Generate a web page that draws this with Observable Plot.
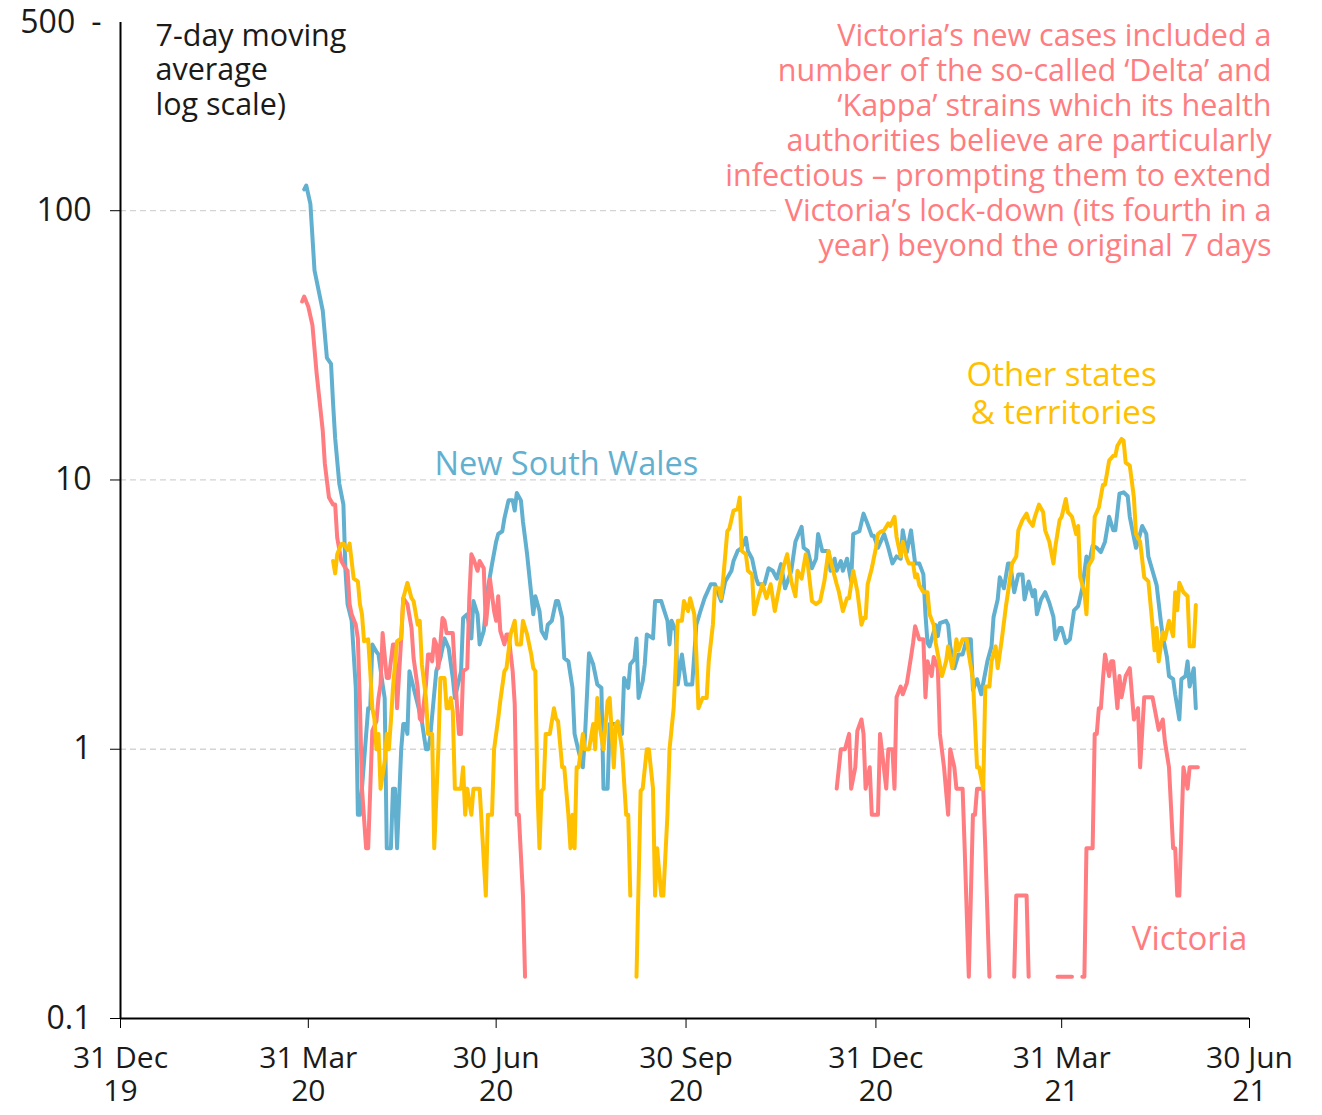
<!DOCTYPE html>
<html>
<head>
<meta charset="utf-8">
<script src="https://cdn.jsdelivr.net/npm/d3@7"></script>
<script src="https://cdn.jsdelivr.net/npm/@observablehq/plot@0.6"></script>
<style>
  html, body { margin: 0; padding: 0; background: #fff; }
  #chart svg { display: block; }
</style>
</head>
<body>
<div id="chart"></div>
<script>
// Day offsets counted from 31 Dec 2019; values = 7-day moving average of new cases (0 = no cases, not drawn on log scale)
const nsw = [[89,120],[90,124],[92,106],[94,60],[98,42.5],[100,28.4],[102,27],[103,19.2],[104,14.3],[106,9.7],[108,8.1],[109,4.6],[110,3.46],[112,3.0],[114,1.69],[115,0.571],[116,0.571],[120,1.42],[121,1.42],[122,2.45],[124,2.3],[125,2.25],[127,1.74],[128,1.55],[129,0.429],[131,0.429],[132,0.714],[133,0.714],[134,0.429],[136,1.0],[137,1.24],[138,1.24],[139,1.14],[140,1.95],[142,1.69],[144,1.47],[146,1.27],[148,1.0],[149,1.0],[150,1.1],[153,1.95],[155,2.18],[157,2.58],[159,2.37],[161,1.84],[162,1.55],[165,1.95],[166,3.07],[168,3.17],[170,2.58],[171,3.55],[173,3.17],[174,2.45],[176,2.75],[178,3.96],[180,4.87],[182,5.9],[183,6.3],[185,6.45],[186,7.2],[188,8.4],[190,8.4],[191,7.7],[192,8.94],[194,8.4],[195,7.0],[196,6.1],[197,5.3],[199,3.77],[200,3.17],[201,3.7],[203,3.26],[204,2.75],[206,2.58],[207,2.9],[209,3.0],[211,3.55],[212,3.55],[214,3.07],[215,2.18],[217,2.12],[219,1.69],[220,1.14],[222,0.98],[224,0.857],[225,1.1],[227,2.27],[229,2.07],[231,1.74],[233,1.69],[234,0.714],[236,0.714],[237,1.24],[241,1.24],[243,1.14],[244,1.84],[246,1.69],[247,2.07],[249,2.16],[250,2.58],[251,1.55],[253,1.79],[254,2.07],[255,2.67],[258,2.58],[259,3.55],[262,3.55],[263,3.35],[265,3.0],[266,2.45],[267,3.0],[269,2.75],[270,1.74],[272,2.25],[274,1.74],[277,1.74],[279,2.9],[281,3.26],[283,3.64],[286,4.1],[288,4.1],[291,3.55],[293,4.2],[296,4.6],[297,5.0],[299,5.45],[301,5.6],[303,6.1],[304,5.45],[306,5.1],[308,4.3],[309,4.1],[312,4.1],[314,4.7],[316,4.6],[318,4.3],[320,4.87],[322,3.96],[325,4.6],[327,5.9],[330,6.7],[331,5.6],[333,5.45],[335,4.7],[337,5.1],[338,6.3],[340,5.45],[343,5.45],[344,4.6],[346,5.1],[347,4.6],[349,5.0],[350,4.6],[352,5.1],[354,4.2],[355,6.3],[358,6.45],[360,7.5],[362,6.85],[364,6.2],[365,6.2],[367,5.6],[370,6.3],[372,5.6],[374,4.9],[376,5.2],[378,5.1],[379,6.5],[381,5.4],[383,6.5],[385,4.9],[387,4.9],[389,4.46],[390,3.17],[391,2.48],[392,2.41],[395,2.89],[396,2.63],[397,2.94],[400,3.0],[401,2.89],[402,2.41],[404,2.0],[406,2.25],[408,2.25],[410,2.56],[412,2.56],[413,1.66],[415,1.82],[417,1.6],[418,1.76],[420,2.12],[422,2.41],[423,3.1],[425,3.6],[426,4.35],[428,3.96],[430,4.9],[431,4.9],[433,3.83],[435,4.46],[437,4.46],[438,3.6],[440,4.2],[442,3.7],[443,3.9],[444,3.17],[446,3.6],[448,3.83],[450,3.5],[452,3.1],[453,2.56],[455,2.82],[456,2.82],[458,2.48],[460,2.56],[462,3.28],[464,3.4],[466,3.96],[468,5.2],[469,4.8],[471,5.7],[473,5.6],[475,5.4],[477,5.9],[479,7.3],[481,6.5],[482,6.5],[484,8.9],[486,9.0],[488,8.7],[489,7.3],[492,5.6],[493,5.9],[495,6.75],[497,6.3],[498,5.2],[500,4.6],[502,4.07],[504,3.0],[505,2.63],[507,2.2],[508,1.87],[510,1.82],[511,1.6],[513,1.29],[514,1.82],[516,1.87],[517,2.12],[518,1.71],[520,2.0],[521,1.42]];

const victoria = [[88,46],[89,48],[91,44],[93,37.5],[95,25],[98,15.2],[99,11.5],[101,8.6],[103,8.1],[104,8.1],[105,6.1],[107,5.0],[109,4.7],[110,4.6],[111,3.46],[112,3.17],[114,2.9],[115,2.58],[116,1.47],[117,0.714],[119,0.429],[120,0.429],[122,1.17],[124,1.27],[125,1.55],[126,1.74],[127,2.7],[129,1.84],[130,1.84],[132,2.45],[133,2.45],[134,1.42],[136,2.58],[137,3.64],[139,3.46],[141,2.82],[142,2.18],[144,1.69],[145,1.3],[146,1.27],[148,1.74],[149,2.25],[150,2.25],[151,2.12],[152,2.56],[153,2.45],[154,2.0],[156,3.07],[157,3.0],[158,2.7],[161,2.7],[162,1.95],[163,1.47],[164,1.14],[165,1.14],[166,1.95],[168,2.0],[169,3.64],[170,5.3],[171,5.1],[173,4.6],[174,5.0],[176,4.7],[177,2.9],[178,3.46],[179,4.3],[181,3.26],[182,3.0],[183,3.7],[184,2.75],[186,2.45],[187,2.67],[188,2.67],[190,1.95],[191,1.47],[192,0.571],[193,0.571],[195,0.286],[196,0.143],[197,0],[346,0],[347,0.714],[349,1.0],[351,1.0],[353,1.14],[354,0.714],[356,0.857],[357,1.17],[359,1.29],[360,1.14],[361,0.714],[363,0.857],[364,0.571],[367,0.571],[368,1.14],[371,0.714],[372,1.0],[374,1.0],[375,0.714],[376,1.56],[378,1.71],[379,1.6],[381,1.76],[383,2.2],[384,2.48],[385,2.86],[387,2.56],[389,2.56],[390,1.56],[391,2.12],[393,1.87],[394,2.2],[396,2.0],[397,1.14],[399,0.857],[401,0.571],[402,1.0],[404,0.857],[405,0.714],[408,0.714],[409,0.429],[411,0.143],[413,0.571],[414,0.571],[415,0.714],[418,0.714],[419,0.429],[421,0.143],[422,0],[432,0],[433,0.143],[434,0.286],[439,0.286],[440,0.143],[441,0],[453,0],[454,0.143],[461,0.143],[462,0],[465,0],[466,0.143],[467,0.143],[468,0.429],[471,0.429],[472,1.14],[473,1.14],[474,1.42],[475,1.42],[476,1.82],[477,2.25],[479,1.87],[480,2.12],[481,2.12],[483,1.42],[484,1.87],[485,1.56],[487,1.87],[489,2.0],[491,1.29],[493,1.42],[494,0.857],[496,1.56],[498,1.56],[500,1.56],[501,1.42],[503,1.18],[505,1.29],[506,1.07],[508,0.857],[510,0.429],[511,0.429],[512,0.286],[513,0.286],[515,0.857],[517,0.714],[518,0.857],[522,0.857]];

const other = [[103,5.0],[104,4.5],[105,5.3],[107,5.78],[108,5.8],[110,5.5],[111,5.8],[113,4.3],[115,4.2],[116,3.46],[117,3.17],[118,2.52],[120,2.56],[121,1.95],[122,1.42],[123,1.3],[124,1.0],[125,1.14],[126,0.714],[128,0.9],[129,1.14],[130,1.0],[131,1.27],[132,1.69],[134,2.52],[136,2.58],[137,3.64],[139,4.15],[141,3.64],[142,3.55],[144,2.9],[145,3.0],[146,2.07],[148,1.55],[149,1.14],[151,1.14],[152,0.429],[154,1.0],[155,1.84],[157,1.84],[158,1.42],[159,1.42],[160,1.55],[161,1.38],[162,0.714],[165,0.714],[166,0.857],[167,0.571],[168,0.714],[170,0.571],[171,0.714],[174,0.714],[177,0.286],[178,0.571],[180,0.571],[181,1.0],[183,1.3],[184,1.51],[186,1.95],[187,2.0],[189,2.67],[191,3.0],[192,2.45],[194,2.45],[195,3.0],[197,2.67],[199,2.25],[200,2.0],[201,1.95],[202,0.714],[203,0.429],[204,0.7],[205,0.714],[206,1.14],[208,1.14],[209,1.27],[210,1.42],[211,1.3],[212,1.27],[214,0.857],[215,0.857],[217,0.571],[218,0.429],[219,0.571],[220,0.429],[221,0.857],[222,0.857],[224,1.14],[225,1.0],[227,1.0],[229,1.24],[230,1.0],[231,1.55],[232,1.24],[234,1.0],[236,1.51],[237,1.55],[239,0.857],[240,1.24],[241,1.27],[243,1.0],[245,0.571],[246,0.571],[247,0.286],[248,0],[249,0],[250,0.143],[252,0.7],[253,0.714],[255,1.0],[256,1.0],[258,0.714],[259,0.286],[260,0.429],[262,0.286],[263,0.286],[265,0.571],[266,1.0],[268,1.42],[269,2.07],[270,3.0],[272,3.0],[273,3.55],[275,3.26],[276,3.64],[278,3.17],[279,2.25],[280,1.42],[282,1.55],[284,1.55],[285,2.12],[287,2.9],[288,3.96],[290,3.96],[291,3.64],[292,4.3],[294,6.45],[295,6.6],[297,7.7],[299,7.8],[300,8.6],[301,5.45],[303,5.3],[304,4.6],[306,4.46],[307,3.17],[309,3.64],[310,3.86],[311,4.1],[313,3.64],[315,4.1],[317,3.26],[320,4.3],[321,4.7],[323,5.3],[325,4.2],[327,3.7],[328,4.6],[330,4.3],[332,5.3],[333,4.87],[335,3.55],[337,3.46],[339,3.55],[341,4.2],[343,5.45],[345,4.7],[347,4.1],[348,3.86],[350,3.26],[352,3.64],[353,3.64],[355,4.6],[357,3.86],[359,2.9],[360,3.07],[361,3.07],[362,4.1],[364,4.7],[366,5.6],[367,6.3],[368,6.4],[370,6.5],[372,6.9],[373,6.75],[375,7.3],[376,6.15],[378,5.2],[379,5.9],[381,5.1],[382,4.9],[384,4.9],[385,4.35],[386,4.46],[387,4.07],[389,3.83],[391,3.83],[392,3.17],[394,2.89],[395,2.48],[396,2.25],[398,1.87],[400,2.12],[401,2.41],[403,2.0],[404,2.2],[405,2.56],[406,2.33],[408,2.56],[410,2.56],[411,2.25],[413,1.82],[415,0.857],[416,0.857],[418,0.714],[419,1.71],[421,1.71],[422,2.12],[424,2.41],[425,2.0],[427,2.56],[429,3.4],[430,3.83],[432,4.9],[434,5.2],[435,6.5],[437,7.1],[439,7.5],[440,7.1],[442,6.75],[443,7.3],[445,8.1],[447,7.6],[448,6.5],[450,5.9],[452,4.9],[453,5.7],[455,7.1],[456,7.3],[458,8.5],[459,7.6],[461,7.3],[463,6.3],[464,6.75],[465,4.35],[467,3.83],[468,3.17],[469,4.8],[471,5.1],[472,7.3],[474,7.9],[476,9.6],[477,9.6],[479,11.8],[481,12.3],[482,12.3],[483,13.4],[485,14.2],[486,14.0],[487,11.6],[489,11.3],[491,8.6],[492,6.3],[494,5.9],[496,4.35],[498,4.2],[500,2.89],[501,2.33],[502,2.82],[503,2.12],[505,2.72],[506,2.56],[508,3.0],[510,2.63],[511,3.83],[512,3.28],[513,4.15],[515,3.83],[517,3.7],[518,2.41],[520,2.41],[521,3.43]];

const xTickDays = [0, 91, 182, 274, 366, 456, 547];
const yTicks = [0.1, 1, 10, 100];
const yTopTick = [500];
const gridValues = [1, 10, 100];

const axisNote = "7-day moving\naverage\nlog scale)";
const annotation = "Victoria\u2019s new cases included a\nnumber of the so-called \u2018Delta\u2019 and\n\u2018Kappa\u2019 strains which its health\nauthorities believe are particularly\ninfectious \u2013 prompting them to extend\nVictoria\u2019s lock-down (its fourth in a\nyear) beyond the original 7 days";
const labels = [
  {text: "New South Wales", day: 216, value: 11.4, color: "#62b0d0", anchor: "middle"},
  {text: "Other states\n& territories", day: 502, value: 21, color: "#ffc000", anchor: "end"},
  {text: "Victoria", day: 546, value: 0.2, color: "#ff7c80", anchor: "end"}
];

const colors = {nsw: "#62b0d0", vic: "#ff7c80", other: "#ffc000"};

const toDate = d => new Date(Date.UTC(2019, 11, 31 + d));
const rows = pairs => pairs.map(([d, v]) => ({date: toDate(d), value: v > 0 ? v : NaN}));

const font = "'Open Sans', sans-serif";
const fmtX = d3.utcFormat("%-d %b\n%y");

const chart = Plot.plot({
  width: 1322,
  height: 1115,
  marginLeft: 120,
  marginRight: 73,
  marginTop: 22,
  marginBottom: 97,
  style: {fontFamily: font, fontSize: "30px", color: "#1a1a1a", background: "#fff"},
  x: {type: "utc", domain: [toDate(0), toDate(547)], label: null},
  y: {type: "log", domain: [0.1, 500], label: null},
  marks: [
    Plot.ruleY(gridValues, {stroke: "#d4d4d4", strokeWidth: 1.3, strokeDasharray: "6,4"}),
    Plot.line(rows(nsw), {x: "date", y: "value", stroke: colors.nsw, strokeWidth: 4, strokeLinejoin: "round", strokeLinecap: "round"}),
    Plot.line(rows(victoria), {x: "date", y: "value", stroke: colors.vic, strokeWidth: 4, strokeLinejoin: "round", strokeLinecap: "round"}),
    Plot.line(rows(other), {x: "date", y: "value", stroke: colors.other, strokeWidth: 4, strokeLinejoin: "round", strokeLinecap: "round"}),
    Plot.ruleX([toDate(0)], {y1: 0.1, y2: 500, stroke: "#000", strokeWidth: 2}),
    Plot.ruleY([0.1], {stroke: "#000", strokeWidth: 2}),
    Plot.axisX({ticks: xTickDays.map(toDate), label: null, tickSize: 10, tickPadding: 15, tickFormat: fmtX, lineHeight: 1.13, stroke: "#000", fill: "#1a1a1a", fontSize: 30}),
    Plot.axisY({ticks: yTicks, label: null, tickSize: 10, tickPadding: 19, tickFormat: d => d < 1 ? "0.1" : String(d), stroke: "#000", fill: "#1a1a1a", fontSize: 32}),
    Plot.text(yTopTick, {x: toDate(0), y: d => d, text: d => d + "\u2002-", textAnchor: "end", dx: -19, fontSize: 32, fill: "#1a1a1a"}),
    Plot.text([axisNote], {frameAnchor: "top-left", dx: 35, dy: -1, textAnchor: "start", lineAnchor: "top", lineHeight: 1.13, fontSize: 30.5, fill: "#1a1a1a"}),
    Plot.text([annotation], {frameAnchor: "top-right", dx: 22, dy: -1, textAnchor: "end", lineAnchor: "top", lineHeight: 1.148, fontSize: 30.5, fill: "#ff7c80", stroke: "#fff", strokeWidth: 16}),
    Plot.text(labels, {x: d => toDate(d.day), y: "value", text: "text", fill: "color", textAnchor: "end", lineAnchor: "middle", lineHeight: 1.15, fontSize: 33, stroke: "#fff", strokeWidth: 8, filter: d => d.anchor === "end"}),
    Plot.text(labels, {x: d => toDate(d.day), y: "value", text: "text", fill: "color", textAnchor: "middle", lineAnchor: "middle", fontSize: 32.5, stroke: "#fff", strokeWidth: 8, filter: d => d.anchor === "middle"})
  ]
});

document.getElementById("chart").appendChild(chart);
</script>
</body>
</html>
